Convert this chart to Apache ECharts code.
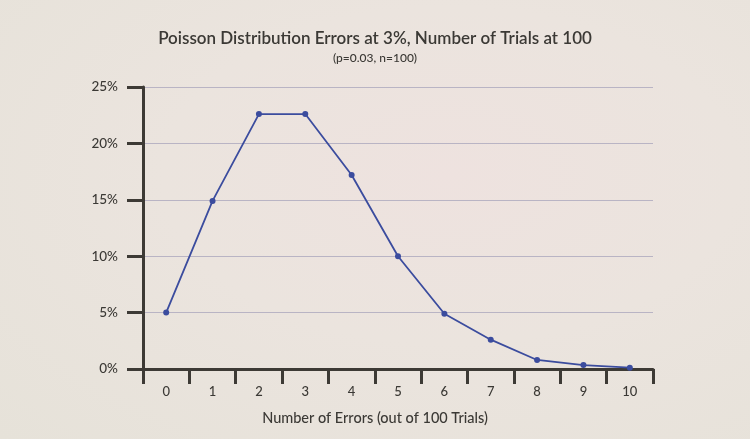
<!DOCTYPE html>
<html>
<head>
<meta charset="utf-8">
<script src="https://cdn.jsdelivr.net/npm/echarts@6/dist/echarts.min.js"></script>
<style>
html,body{margin:0;padding:0;width:750px;height:439px;overflow:hidden;}
body{background:radial-gradient(ellipse at 60% 40%, #eee2df 0%, #ebe4de 45%, #e6e2d9 100%);}
#c{width:750px;height:439px;}
</style>
</head>
<body>
<div id="c"></div>
<script>
const categories = ['0','1','2','3','4','5','6','7','8','9','10'];
const probabilities = [5.0, 14.9, 22.6, 22.6, 17.2, 10.0, 4.9, 2.6, 0.8, 0.35, 0.12];
const yTicks = {min: 0, max: 25, interval: 5};
const titleText = 'Poisson Distribution Errors at 3%, Number of Trials at 100';
const subtitleText = '(p=0.03, n=100)';
const xAxisName = 'Number of Errors (out of 100 Trials)';

const textColor = '#3b3935';
const axisColor = '#3d3a35';
const font = 'Lato';

const chart = echarts.init(document.getElementById('c'), null, {renderer: 'canvas'});
chart.setOption({
  backgroundColor: 'transparent',
  animation: false,
  title: {
    text: titleText,
    subtext: subtitleText,
    left: 'center',
    top: 25,
    itemGap: 5,
    textStyle: {fontFamily: font, fontSize: 17, fontWeight: 600, color: textColor},
    subtextStyle: {fontFamily: font, fontSize: 12, fontWeight: 500, color: textColor}
  },
  grid: {left: 143, right: 97, top: 87, bottom: 70, containLabel: false},
  xAxis: {
    type: 'category',
    data: categories,
    boundaryGap: true,
    name: xAxisName,
    nameLocation: 'middle',
    nameGap: 42,
    nameTextStyle: {fontFamily: font, fontSize: 14.5, fontWeight: 500, color: textColor, padding: [0, 46, 0, 0]},
    axisLine: {lineStyle: {color: axisColor, width: 3}},
    axisTick: {show: true, alignWithLabel: false, length: 15, lineStyle: {color: axisColor, width: 3}},
    axisLabel: {margin: 16, fontFamily: font, fontSize: 13, fontWeight: 500, color: textColor},
    splitLine: {show: false}
  },
  yAxis: {
    type: 'value',
    min: yTicks.min,
    max: yTicks.max,
    interval: yTicks.interval,
    axisLine: {show: true, lineStyle: {color: axisColor, width: 3}},
    axisTick: {show: true, length: 16, lineStyle: {color: axisColor, width: 3}},
    axisLabel: {margin: 25, formatter: '{value}%', fontFamily: font, fontSize: 13.5, fontWeight: 500, color: textColor},
    splitLine: {show: true, lineStyle: {color: '#b9b4c4', width: 1}}
  },
  series: [{
    type: 'line',
    data: probabilities,
    symbol: 'circle',
    symbolSize: 6,
    lineStyle: {color: '#3b4c9e', width: 1.8},
    itemStyle: {color: '#3b4c9e'}
  }]
});
</script>
</body>
</html>
